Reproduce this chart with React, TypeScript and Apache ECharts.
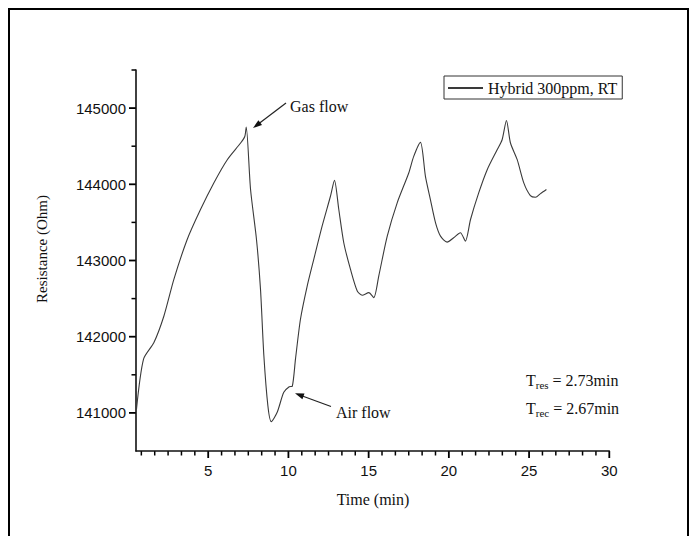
import React, { useEffect, useRef } from "react";
import * as echarts from "echarts";

const seriesName = "Hybrid 300ppm, RT";
const time = [0.53, 0.97, 1.61, 2.24, 2.86, 3.69, 4.52, 5.35, 6.19, 7.02, 7.28, 7.37, 7.64, 8.01, 8.26, 8.47, 8.72, 8.93, 9.3, 9.71, 10.05, 10.24, 10.44, 10.75, 11.17, 11.58, 12.1, 12.62, 12.87, 13.14, 13.45, 13.87, 14.29, 14.6, 15.01, 15.32, 15.63, 16.16, 16.78, 17.5, 17.81, 18.23, 18.54, 18.85, 19.17, 19.48, 19.89, 20.3, 20.72, 21.03, 21.35, 21.86, 22.39, 23.01, 23.32, 23.59, 23.84, 24.26, 24.67, 25.08, 25.4, 25.71, 26.08];
const resistance = [141050, 141706, 141920, 142272, 142752, 143276, 143669, 144018, 144323, 144542, 144628, 144751, 143931, 143276, 142621, 141749, 141094, 140885, 141008, 141270, 141343, 141350, 141705, 142229, 142665, 143015, 143451, 143843, 144052, 143669, 143233, 142883, 142600, 142543, 142578, 142513, 142796, 143320, 143757, 144149, 144366, 144550, 144105, 143800, 143495, 143320, 143241, 143298, 143364, 143254, 143538, 143887, 144192, 144454, 144585, 144838, 144542, 144323, 144018, 143852, 143830, 143878, 143931];

const xMajor = [5, 10, 15, 20, 25, 30];
const xMinorPerMajor = 6;
const yMajor = [141000, 142000, 143000, 144000, 145000];
const yMinor = [141500, 142500, 143500, 144500, 145500];

const xMin = 0.5, xMax = 30, yMin = 140500, yMax = 145500;

const SERIF = "'Liberation Serif', 'Times New Roman', serif";
const SANS = "'Liberation Sans', Arial, sans-serif";

export default function App() {
  const ref = useRef<HTMLDivElement>(null);
  useEffect(() => {
    if (!ref.current) return;
    const chart = echarts.init(ref.current, null, { renderer: "svg" });
    const data = time.map((t, i) => [t, resistance[i]]);
    const axisColor = "#111";
    chart.setOption({
      animation: false,
      backgroundColor: "#fff",
      grid: { left: 136, right: 86.7, top: 70, bottom: 85 },
      legend: {
        left: 444,
        top: 76,
        padding: [4, 5, 3, 3],
        borderColor: "#333",
        borderWidth: 1,
        itemWidth: 35,
        itemHeight: 14,
        itemGap: 6,
        itemStyle: { opacity: 0 },
        textStyle: { fontFamily: SERIF, fontSize: 16, color: "#111" },
        data: [seriesName],
      },
      xAxis: {
        type: "value", min: xMin, max: xMax,
        axisLine: { show: true, lineStyle: { color: axisColor, width: 1.6 } },
        axisTick: { show: false },
        axisLabel: { customValues: xMajor, fontFamily: SANS, fontSize: 15, color: "#111", margin: 12, formatter: (v: number) => String(v) },
        splitLine: { show: false },
      },
      yAxis: {
        type: "value", min: yMin, max: yMax,
        axisLine: { show: true, lineStyle: { color: axisColor, width: 1.6 } },
        axisTick: { show: false },
        axisLabel: { customValues: yMajor, fontFamily: SANS, fontSize: 15, color: "#111", margin: 10, formatter: (v: number) => String(v) },
        splitLine: { show: false },
      },
      series: [
        {
          name: seriesName,
          type: "line",
          data,
          symbol: "none",
          smooth: 0.25,
          lineStyle: { color: "#3a3a3a", width: 1.1 },
          itemStyle: { color: "#3a3a3a" },
          z: 3,
        },
      ],
    });

    // ticks placed through the axes' own scales
    const step = 5 / xMinorPerMajor;
    const xTicks: [number, boolean][] = xMajor.map((v) => [v, true] as [number, boolean]);
    for (let i = 1; i * step < xMax; i++) {
      const v = +(i * step).toFixed(4);
      if (v > xMin && i % xMinorPerMajor !== 0) xTicks.push([v, false]);
    }
    const yTicks: [number, boolean][] = [
      ...yMajor.map((v) => [v, true] as [number, boolean]),
      ...yMinor.map((v) => [v, false] as [number, boolean]),
    ];
    const toPx = (x: number, y: number): number[] =>
      chart.convertToPixel({ seriesIndex: 0 }, [x, y]) as number[];
    const tickEls: any[] = [];
    xTicks.forEach(([v, major]) => {
      const p = toPx(v, yMin);
      tickEls.push({
        type: "polyline", silent: true,
        shape: { points: [[p[0], p[1]], [p[0], p[1] + (major ? 7 : 4.5)]] },
        style: { stroke: "#000", lineWidth: major ? 1.8 : 1.5, fill: null },
      });
    });
    yTicks.forEach(([v, major]) => {
      const p = toPx(xMin, v);
      tickEls.push({
        type: "polyline", silent: true,
        shape: { points: [[p[0], p[1]], [p[0] - (major ? 7 : 4.5), p[1]]] },
        style: { stroke: "#000", lineWidth: major ? 1.8 : 1.5, fill: null },
      });
    });

    const rich = {
      t: { fontFamily: SERIF, fontSize: 16, fill: "#111", color: "#111" },
      s: { fontFamily: SERIF, fontSize: 11, fill: "#111", color: "#111", padding: [9, 0, 0, 0] },
    };

    chart.setOption({
      graphic: [
        { type: "rect", shape: { x: 9, y: 9, width: 679, height: 540 }, style: { fill: "none", stroke: "#000", lineWidth: 2 }, silent: true },
        { type: "text", x: 42, y: 249, rotation: Math.PI / 2, style: { text: "Resistance (Ohm)", fontFamily: SERIF, fontSize: 15, fill: "#111", align: "center", verticalAlign: "middle" } },
        { type: "text", x: 373, y: 499, style: { text: "Time (min)", fontFamily: SERIF, fontSize: 16, fill: "#111", align: "center", verticalAlign: "middle" } },
        { type: "text", x: 290, y: 106, style: { text: "Gas flow", fontFamily: SERIF, fontSize: 16, fill: "#111", align: "left", verticalAlign: "middle" } },
        { type: "line", shape: { x1: 286, y1: 103, x2: 259, y2: 123.5 }, style: { stroke: "#222", lineWidth: 1.2 } },
        { type: "polygon", shape: { points: [[253, 128], [262.0, 125.0], [258.4, 120.2]] }, style: { fill: "#111" } },
        { type: "text", x: 336, y: 412, style: { text: "Air flow", fontFamily: SERIF, fontSize: 16, fill: "#111", align: "left", verticalAlign: "middle" } },
        { type: "line", shape: { x1: 331, y1: 406.5, x2: 301, y2: 395.5 }, style: { stroke: "#222", lineWidth: 1.2 } },
        { type: "polygon", shape: { points: [[295, 393.3], [304.5, 393.6], [302.4, 399.2]] }, style: { fill: "#111" } },
        { type: "text", x: 526, y: 380, style: { text: "{t|T}{s|res}{t| = 2.73min}", verticalAlign: "middle", rich } },
        { type: "text", x: 526, y: 408, style: { text: "{t|T}{s|rec}{t| = 2.67min}", verticalAlign: "middle", rich } },
        ...tickEls,
      ],
    });
    return () => chart.dispose();
  }, []);
  return (
    <div
      ref={ref}
      style={{ position: "fixed", left: 0, top: 0, width: 696, height: 536, background: "#fff" }}
    />
  );
}
